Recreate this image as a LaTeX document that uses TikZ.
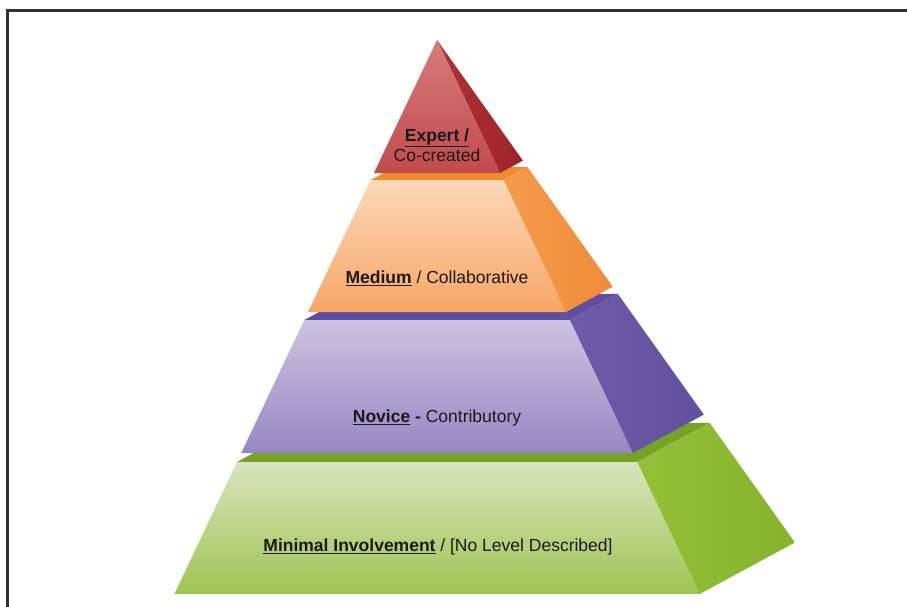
\documentclass[tikz,border=0pt]{standalone}
\usepackage{fontspec}
\setmainfont{Liberation Sans}
% tier colours: front top, front bottom, side, top strip, side highlight
\definecolor{grnFT}{RGB}{216,229,190}
\definecolor{grnFB}{RGB}{160,196,82}
\definecolor{grnS}{RGB}{132,180,44}
\definecolor{grnT}{RGB}{118,162,40}
\definecolor{grnH}{RGB}{148,192,56}
\definecolor{purFT}{RGB}{206,195,224}
\definecolor{purFB}{RGB}{152,134,196}
\definecolor{purS}{RGB}{98,80,158}
\definecolor{purT}{RGB}{96,78,160}
\definecolor{purH}{RGB}{110,92,170}
\definecolor{orgFT}{RGB}{252,216,184}
\definecolor{orgFB}{RGB}{247,166,102}
\definecolor{orgS}{RGB}{238,140,56}
\definecolor{orgT}{RGB}{240,140,48}
\definecolor{orgH}{RGB}{246,156,76}
\definecolor{redFT}{RGB}{214,124,124}
\definecolor{redFB}{RGB}{194,74,76}
\definecolor{redS}{RGB}{156,36,40}
\definecolor{redT}{RGB}{150,34,38}
\definecolor{redH}{RGB}{176,50,54}
\definecolor{lbltext}{RGB}{25,25,25}
\definecolor{framegray}{RGB}{50,50,50}
\begin{document}
% Units: 1 unit = 1pt, y grows downwards; the apex of the pyramid sits at (437,40).
% A point on the front face at depth t below the apex: (437 -/+ 0.474 t, 40 + t);
% the back edge is shifted by (0.172 t, -0.093 t).
\newcommand{\pyrtier}[3]{%
  % #1 top t, #2 bottom t, #3 colour prefix
  \coordinate (#3tl) at ({437-0.474*#1},{40+#1});
  \coordinate (#3tr) at ({437+0.474*#1},{40+#1});
  \coordinate (#3bl) at ({437-0.474*#2},{40+#2});
  \coordinate (#3br) at ({437+0.474*#2},{40+#2});
  \coordinate (#3ktr) at ({437+0.646*#1},{40+0.907*#1});
  \coordinate (#3ktl) at ({437-0.302*#1},{40+0.907*#1});
  \coordinate (#3kbr) at ({437+0.646*#2},{40+0.907*#2});
  \fill[#3T] (#3tl) -- (#3tr) -- (#3ktr) -- (#3ktl) -- cycle;
  \shade[left color=#3H, right color=#3S] (#3tr) -- (#3ktr) -- (#3kbr) -- (#3br) -- cycle;
  \shade[top color=#3FT, bottom color=#3FB] (#3tl) -- (#3tr) -- (#3br) -- (#3bl) -- cycle;
}
\begin{tikzpicture}[x=1pt,y=-1pt,
  lbl/.style={inner sep=0pt, text=lbltext,
              font=\fontsize{17.5}{20}\selectfont, align=center}]
\useasboundingbox (0,0) rectangle (907,607);
\fill[white] (0,0) rectangle (907,607);
% page frame
\draw[line width=2.2pt, framegray] (7.5,607) -- (7.5,10.5) -- (907,10.5);

% tiers, drawn from the base upwards
\pyrtier{422}{554}{grn}
\pyrtier{280}{413}{pur}
\pyrtier{140}{272}{org}
\pyrtier{0}{133}{red}

% labels
\node[lbl] (expert) at (437,145) {\underline{\textbf{Expert /}}\\Co-created};
\node[lbl] (medium) at (437,278) {\underline{\textbf{Medium}} / Collaborative};
\node[lbl] (novice) at (437,418) {\underline{\textbf{Novice}} \textbf{-} Contributory};
\node[lbl] (minimal) at (438,547) {\underline{\textbf{Minimal Involvement}} / [No Level Described]};
\end{tikzpicture}
\end{document}
